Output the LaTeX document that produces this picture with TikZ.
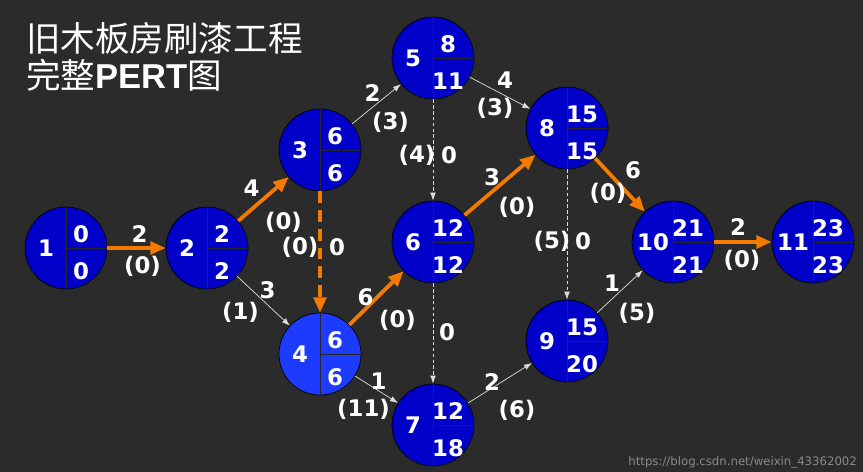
\documentclass[tikz,border=0pt]{standalone}
\usepackage{fontspec}
\setmainfont{DejaVu Sans}
\newfontfamily\cjk{Noto Sans CJK SC}
\newfontfamily\headfont{Liberation Sans}
\usetikzlibrary{arrows.meta,positioning}
\definecolor{bg}{HTML}{2B2B2B}
\definecolor{evblue}{HTML}{0000C8}
\definecolor{evlight}{HTML}{1C3BFF}
\definecolor{crit}{HTML}{F57A00}
\definecolor{thinw}{HTML}{DDDDDD}
\definecolor{mark}{HTML}{8A8A8A}

\begin{document}
\begin{tikzpicture}[x=0.3mm,y=-0.3mm,
  every node/.style={text=white,font=\bfseries\fontsize{19.5}{21}\selectfont},
  evt/.style={circle,draw=black,line width=0.6pt,fill=#1,minimum size=24.6mm,inner sep=0pt},
  evt/.default=evblue,
  quad/.style={draw=black!85,line width=0.6pt},
  lbl/.style={midway,inner sep=0pt},
  crit/.style={draw=crit,line width=3.2pt,-{Triangle[length=4.6mm,width=3.8mm]}},
  critdash/.style={crit,dash pattern=on 10pt off 6pt},
  thin/.style={draw=thinw,line width=0.6pt,-{Latex[length=2.4mm,width=1.7mm]}},
  dummy/.style={thin,dash pattern=on 3pt off 2pt}]
\fill[bg] (0,0) rectangle (863,472);

% title
\node[anchor=west,align=left,font=\cjk\fontsize{29.5}{31.5}\selectfont] (title) at (22,57) {旧木板房刷漆工程\\完整{\headfont\bfseries PERT}图};

% events: number, earliest, latest
\foreach \n/\px/\py/\es/\ls/\c in {1/66/248/0/0/evblue, 2/207/248/2/2/evblue, 3/320/150/6/6/evblue, 4/320/354/6/6/evlight, 5/433/58/8/11/evblue, 6/433/242/12/12/evblue, 7/433/425/12/18/evblue, 8/567/128/15/15/evblue, 9/567/341/15/20/evblue, 10/673/242/21/21/evblue, 11/813/242/23/23/evblue}{
  \node[evt=\c] (e\n) at (\px,\py) {};
  \draw[quad] (e\n.north) -- (e\n.south) (e\n.center) -- (e\n.east);
  \node (k\n) at ([shift={(-20,0)}]e\n.center) {\n};
  \node (es\n) at ([shift={(15,-14)}]e\n.center) {\es};
  \node (ls\n) at ([shift={(15,23)}]e\n.center) {\ls};
}

% activities: duration (slack)
\draw[crit] (e1) -- node[lbl,shift={(3,-14)}]{2} node[lbl,shift={(6,18)}]{(0)} (e2);
\draw[crit] (e2) -- node[lbl,shift={(-12,-11)}]{4} node[lbl,shift={(20,23)}]{(0)} (e3);
\draw[thin] (e2) -- node[lbl,shift={(4,-11)}]{3} node[lbl,shift={(-23,11)}]{(1)} (e4);
\draw[critdash] (e3) -- node[lbl,shift={(-20,-5)}]{(0)} node[lbl,shift={(17,-5)}]{0} (e4);
\draw[thin] (e3) -- node[lbl,shift={(-4,-11)}]{2} node[lbl,shift={(14,18)}]{(3)} (e5);
\draw[thin] (e5) -- node[lbl,shift={(5,-13)}]{4} node[lbl,shift={(-5,15)}]{(3)} (e8);
\draw[dummy] (e5) -- node[lbl,shift={(-16,5)}]{(4)} node[lbl,shift={(16,5)}]{0} (e6);
\draw[crit] (e6) -- node[lbl,shift={(-8,-8)}]{3} node[lbl,shift={(17,22)}]{(0)} (e8);
\draw[crit] (e4) -- node[lbl,shift={(-11,-1)}]{6} node[lbl,shift={(21,22)}]{(0)} (e6);
\draw[dummy] (e6) -- node[lbl,shift={(14,-1)}]{0} (e7);
\draw[thin] (e4) -- node[lbl,shift={(2,-8)}]{1} node[lbl,shift={(-13,20)}]{(11)} (e7);
\draw[thin] (e7) -- node[lbl,shift={(-8,-1)}]{2} node[lbl,shift={(17,27)}]{(6)} (e9);
\draw[dummy] (e8) -- node[lbl,shift={(-15,7)}]{(5)} node[lbl,shift={(16,7)}]{0} (e9);
\draw[crit] (e8) -- node[lbl,shift={(13,-15)}]{6} node[lbl,shift={(-12,8)}]{(0)} (e10);
\draw[thin] (e9) -- node[lbl,shift={(-8,-8)}]{1} node[lbl,shift={(17,22)}]{(5)} (e10);
\draw[crit] (e10) -- node[lbl,shift={(-5,-15)}]{2} node[lbl,shift={(-1,18)}]{(0)} (e11);

\node[anchor=south east,text=mark,font=\fontsize{10}{12}\selectfont] (wm) at (861,472) {https://blog.csdn.net/weixin\_43362002};
\end{tikzpicture}
\end{document}
